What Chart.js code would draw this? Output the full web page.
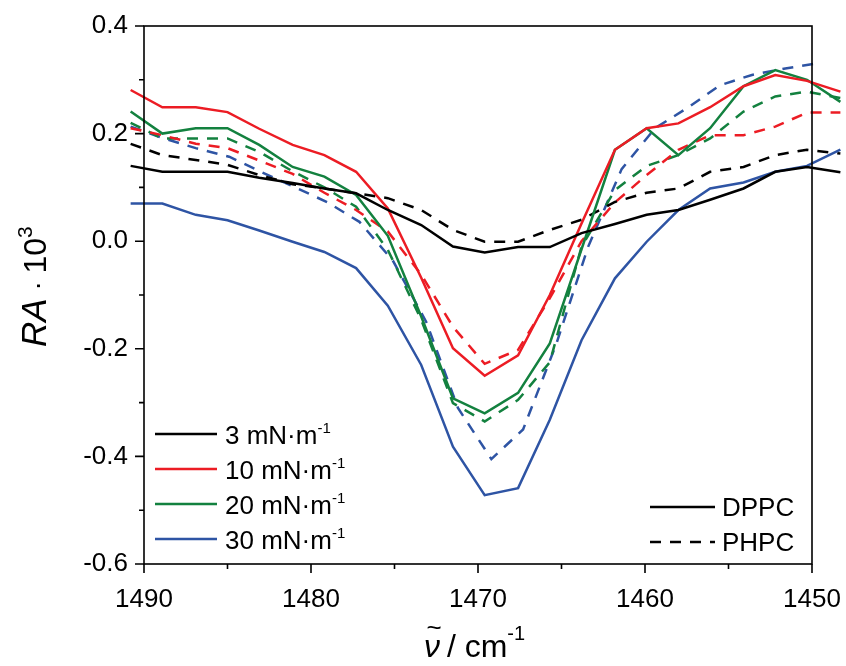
<!DOCTYPE html>
<html>
<head>
<meta charset="utf-8">
<script src="https://cdn.jsdelivr.net/npm/chart.js@4.4.1/dist/chart.umd.min.js"></script>
<style>
  html, body { margin: 0; padding: 0; background: #fff; }
</style>
</head>
<body>
<canvas id="chart" width="846" height="666"></canvas>
<script>
// wavenumber grid (cm-1)
const wavenumbers = [1490.8, 1488.9, 1486.9, 1485.0, 1483.1, 1481.1, 1479.2, 1477.3, 1475.4, 1473.4, 1471.5, 1469.6,
    1467.6, 1465.7, 1463.8, 1461.8, 1459.9, 1458.0, 1456.1, 1454.1, 1452.2, 1450.3, 1448.3];
// the 30 mN/m PHPC curve sits on a slightly different grid
const wavenumbersB = [1490.8, 1488.8, 1486.9, 1484.9, 1483.0, 1481.0, 1479.0, 1477.1, 1475.1, 1473.1, 1471.2, 1469.2,
    1467.3, 1465.3, 1463.4, 1461.4, 1459.4, 1457.5, 1455.5, 1453.6, 1451.6, 1449.6];

const dppc3 = [0.140, 0.129, 0.129, 0.129, 0.118, 0.108, 0.098, 0.089, 0.058, 0.030, -0.010, -0.021, -0.011, -0.011, 0.015, 0.032, 0.049, 0.058, 0.077, 0.098, 0.129, 0.138, 0.128];
const dppc10 = [0.281, 0.249, 0.249, 0.240, 0.209, 0.179, 0.160, 0.129, 0.061, -0.068, -0.199, -0.250, -0.212, -0.100, 0.033, 0.170, 0.210, 0.219, 0.249, 0.288, 0.309, 0.298, 0.278];
const dppc20 = [0.241, 0.200, 0.210, 0.210, 0.179, 0.138, 0.120, 0.086, 0.010, -0.140, -0.292, -0.320, -0.282, -0.190, -0.015, 0.170, 0.210, 0.160, 0.210, 0.288, 0.318, 0.300, 0.259];
const dppc30 = [0.070, 0.070, 0.049, 0.039, 0.020, -0.001, -0.020, -0.050, -0.120, -0.230, -0.382, -0.472, -0.459, -0.332, -0.184, -0.069, -0.001, 0.058, 0.098, 0.109, 0.129, 0.140, 0.170];
const phpc3 = [0.181, 0.160, 0.151, 0.142, 0.123, 0.106, 0.098, 0.089, 0.080, 0.058, 0.021, -0.001, -0.001, 0.021, 0.040, 0.073, 0.090, 0.098, 0.129, 0.138, 0.160, 0.170, 0.163];
const phpc10 = [0.210, 0.197, 0.181, 0.173, 0.150, 0.125, 0.090, 0.058, 0.018, -0.062, -0.159, -0.228, -0.202, -0.106, 0.000, 0.072, 0.123, 0.170, 0.197, 0.197, 0.213, 0.239, 0.239];
const phpc20 = [0.220, 0.191, 0.191, 0.191, 0.166, 0.130, 0.100, 0.064, -0.016, -0.146, -0.301, -0.335, -0.295, -0.225, -0.010, 0.095, 0.140, 0.160, 0.191, 0.241, 0.269, 0.278, 0.266];
const phpc30 = [0.213, 0.191, 0.173, 0.157, 0.129, 0.101, 0.072, 0.036, -0.036, -0.150, -0.310, -0.405, -0.350, -0.190, -0.010, 0.134, 0.210, 0.247, 0.290, 0.309, 0.321, 0.331];

const pressures = ['3', '10', '20', '30'];
const lipids = ['DPPC', 'PHPC'];
const colors = ['#000000', '#EC1C24', '#13813F', '#2E54A4'];
const xMajor = [1490, 1480, 1470, 1460, 1450];
const xMinor = [1485, 1475, 1465, 1455];
const yMajor = [0.4, 0.2, 0.0, -0.2, -0.4, -0.6];
const yMinor = [0.3, 0.1, -0.1, -0.3, -0.5];

const FONT = '"Liberation Sans", Arial, sans-serif';
const DASH = [11, 9];

function toPoints(xs, ys) {
    let pts = [];
    for (let i = 0; i < ys.length; i++) {
        pts.push({x: xs[i], y: ys[i]});
    }
    return pts;
}

function makeSet(label, xs, ys, color, dashed) {
    return {
        label: label,
        data: toPoints(xs, ys),
        borderColor: color,
        borderWidth: 2.5,
        borderDash: dashed ? DASH : [],
        pointRadius: 0,
        tension: 0,
        fill: false,
        clip: false
    };
}

// draw a run of text pieces (for italics and superscripts)
function richText(ctx, parts, x, y) {
    let cx = x;
    for (const p of parts) {
        ctx.font = (p.italic ? 'italic ' : '') + p.size + 'px ' + FONT;
        ctx.fillText(p.text, cx, y + (p.dy || 0));
        cx += ctx.measureText(p.text).width;
    }
    return cx;
}

const decorPlugin = {
    id: 'decor',
    afterDraw(chart) {
        const ctx = chart.ctx;
        const a = chart.chartArea;
        const xs = chart.scales.x;
        const ys = chart.scales.y;
        ctx.save();
        ctx.strokeStyle = '#000';
        ctx.fillStyle = '#000';
        ctx.lineWidth = 1.6;
        ctx.setLineDash([]);

        // frame
        ctx.strokeRect(a.left, a.top, a.right - a.left, a.bottom - a.top);

        // tick marks, pointing out
        ctx.beginPath();
        xMajor.forEach(v => { const p = xs.getPixelForValue(v); ctx.moveTo(p, a.bottom); ctx.lineTo(p, a.bottom + 9); });
        xMinor.forEach(v => { const p = xs.getPixelForValue(v); ctx.moveTo(p, a.bottom); ctx.lineTo(p, a.bottom + 5); });
        yMajor.forEach(v => { const p = ys.getPixelForValue(v); ctx.moveTo(a.left, p); ctx.lineTo(a.left - 9, p); });
        yMinor.forEach(v => { const p = ys.getPixelForValue(v); ctx.moveTo(a.left, p); ctx.lineTo(a.left - 5, p); });
        ctx.stroke();

        // legend: surface pressures
        ctx.textAlign = 'left';
        ctx.textBaseline = 'alphabetic';
        ctx.lineWidth = 2.5;
        pressures.forEach((p, i) => {
            const rowY = 434 + i * 35;
            ctx.strokeStyle = colors[i];
            ctx.beginPath();
            ctx.moveTo(155, rowY);
            ctx.lineTo(217, rowY);
            ctx.stroke();
            richText(ctx, [
                {text: p + ' mN\u00b7m', size: 26},
                {text: '-1', size: 15, dy: -11}
            ], 225, rowY + 10);
        });

        // legend: lipids
        ctx.strokeStyle = '#000';
        lipids.forEach((l, i) => {
            const rowY = 507 + i * 35;
            ctx.setLineDash(i === 1 ? DASH : []);
            ctx.beginPath();
            ctx.moveTo(650, rowY);
            ctx.lineTo(715, rowY);
            ctx.stroke();
            ctx.setLineDash([]);
            richText(ctx, [{text: l, size: 26}], 722, rowY + 9);
        });

        // y title, rotated
        ctx.save();
        ctx.translate(46, 347);
        ctx.rotate(-Math.PI / 2);
        richText(ctx, [
            {text: 'RA', size: 35, italic: true},
            {text: ' \u00b7 ', size: 28},
            {text: '10', size: 32},
            {text: '3', size: 21, dy: -14}
        ], 0, 0);
        ctx.restore();

        // x title
        const nuX = 424;
        ctx.font = 'italic 32px ' + FONT;
        ctx.fillText('\u03bd', nuX, 657);
        const nuW = ctx.measureText('\u03bd').width;
        ctx.font = '26px ' + FONT;
        ctx.textAlign = 'center';
        ctx.fillText('~', nuX + nuW / 2 + 2, 636);
        ctx.textAlign = 'left';
        richText(ctx, [
            {text: ' / cm', size: 32},
            {text: '-1', size: 20, dy: -17}
        ], nuX + nuW - 2, 657);

        ctx.restore();
    }
};

const datasets = [
    makeSet('3 DPPC', wavenumbers, dppc3, colors[0], false),
    makeSet('10 DPPC', wavenumbers, dppc10, colors[1], false),
    makeSet('20 DPPC', wavenumbers, dppc20, colors[2], false),
    makeSet('30 DPPC', wavenumbers, dppc30, colors[3], false),
    makeSet('3 PHPC', wavenumbers, phpc3, colors[0], true),
    makeSet('10 PHPC', wavenumbers, phpc10, colors[1], true),
    makeSet('20 PHPC', wavenumbers, phpc20, colors[2], true),
    makeSet('30 PHPC', wavenumbersB, phpc30, colors[3], true)
];

const config = {
    type: 'line',
    data: {datasets: datasets},
    options: {
        responsive: false,
        animation: false,
        devicePixelRatio: 1,
        layout: {padding: {top: 26, right: 34, left: 0, bottom: 0}},
        plugins: {legend: {display: false}, tooltip: {enabled: false}},
        scales: {
            x: {
                type: 'linear',
                reverse: true,
                min: 1450,
                max: 1490,
                grid: {display: false, drawTicks: false},
                border: {display: false},
                ticks: {
                    stepSize: 10,
                    padding: 20,
                    color: '#000',
                    maxRotation: 0,
                    font: {family: FONT, size: 26},
                    callback: v => String(v)
                },
                afterFit: s => { s.height = 102; s.paddingLeft = 0; s.paddingRight = 0; }
            },
            y: {
                min: -0.6,
                max: 0.4,
                grid: {display: false, drawTicks: false},
                border: {display: false},
                ticks: {
                    stepSize: 0.2,
                    padding: 16,
                    color: '#000',
                    font: {family: FONT, size: 26},
                    callback: v => v.toFixed(1)
                },
                afterFit: s => { s.width = 144; s.paddingTop = 0; s.paddingBottom = 0; }
            }
        }
    },
    plugins: [decorPlugin]
};

window.myChart = new Chart(document.getElementById('chart').getContext('2d'), config);
</script>
</body>
</html>
